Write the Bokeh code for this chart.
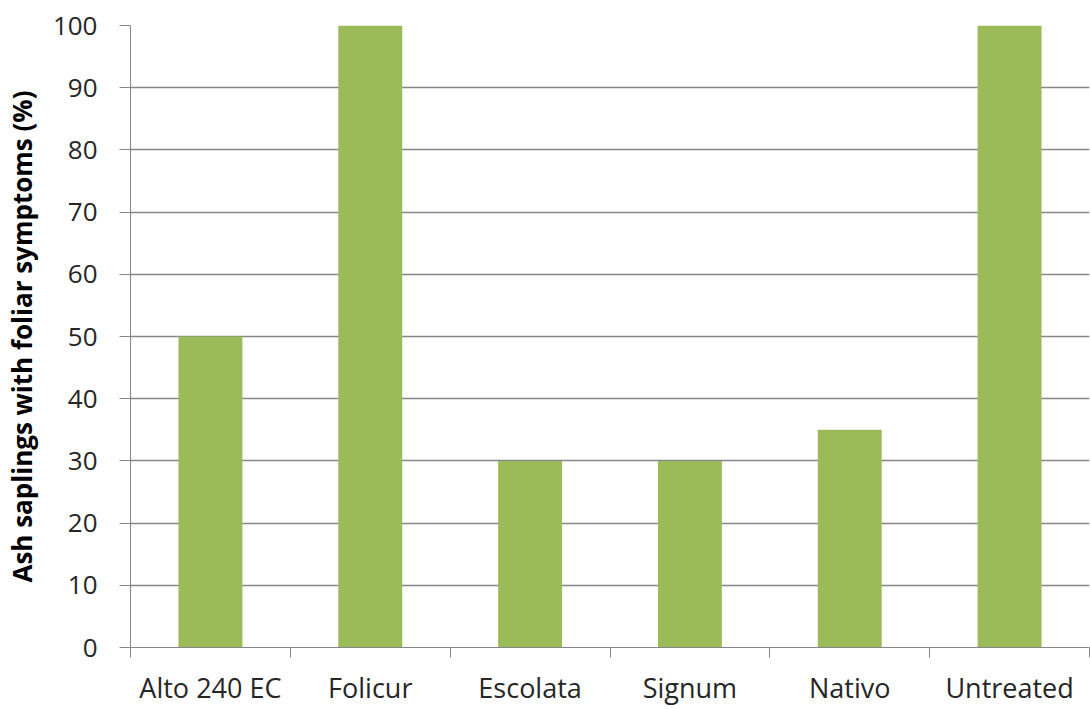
from bokeh.plotting import figure
from bokeh.models import FixedTicker, Range1d, ColumnDataSource
from bokeh.embed import file_html
from bokeh.resources import INLINE

categories = ["Alto 240 EC", "Folicur", "Escolata", "Signum", "Nativo", "Untreated"]
values = [50, 100, 30, 30, 35, 100]
y_ticks = [0, 10, 20, 30, 40, 50, 60, 70, 80, 90, 100]

xs = [i + 0.5 for i in range(len(categories))]
src = ColumnDataSource(dict(x=xs, top=values))

p = figure(width=1090, height=709, output_backend="svg", toolbar_location=None,
           x_range=Range1d(0, len(categories)), y_range=Range1d(0, 100),
           min_border_left=130, min_border_right=1, min_border_top=25, min_border_bottom=62)
p.outline_line_color = None
p.background_fill_color = "white"
p.border_fill_color = "white"

p.vbar(x="x", top="top", width=0.4, bottom=0, source=src, fill_color="#9BBB59", line_color=None)

font = "Open Sans"
gray = "#868686"

# X axis
p.xaxis.ticker = FixedTicker(ticks=xs, minor_ticks=list(range(len(categories) + 1)))
p.xaxis.major_label_overrides = {x: c for x, c in zip(xs, categories)}
p.xaxis.major_tick_line_color = None
p.xaxis.minor_tick_line_color = gray
p.xaxis.minor_tick_out = 10
p.xaxis.minor_tick_in = 0
p.xaxis.axis_line_color = gray
p.xaxis.major_label_text_font = font
p.xaxis.major_label_text_font_size = "27px"
p.xaxis.major_label_text_color = "#262626"
p.xaxis.major_label_standoff = 11

# Y axis
p.yaxis.ticker = FixedTicker(ticks=y_ticks)
p.yaxis.minor_tick_line_color = None
p.yaxis.major_tick_out = 11
p.yaxis.major_tick_in = 0
p.yaxis.major_tick_line_color = gray
p.yaxis.axis_line_color = gray
p.yaxis.major_label_text_font = font
p.yaxis.major_label_text_font_size = "26px"
p.yaxis.major_label_text_color = "#262626"
p.yaxis.major_label_standoff = 22
p.yaxis.axis_label = "Ash saplings with foliar symptoms (%)"
p.yaxis.axis_label_text_font = font
p.yaxis.axis_label_text_font_style = "bold"
p.yaxis.axis_label_text_font_size = "26px"
p.yaxis.axis_label_text_color = "#000000"
p.yaxis.axis_label_standoff = 10

p.xgrid.grid_line_color = None
p.ygrid.grid_line_color = gray
p.ygrid.grid_line_width = 1.5
p.ygrid.level = "underlay"

open("out.html", "w").write(file_html(p, INLINE))
